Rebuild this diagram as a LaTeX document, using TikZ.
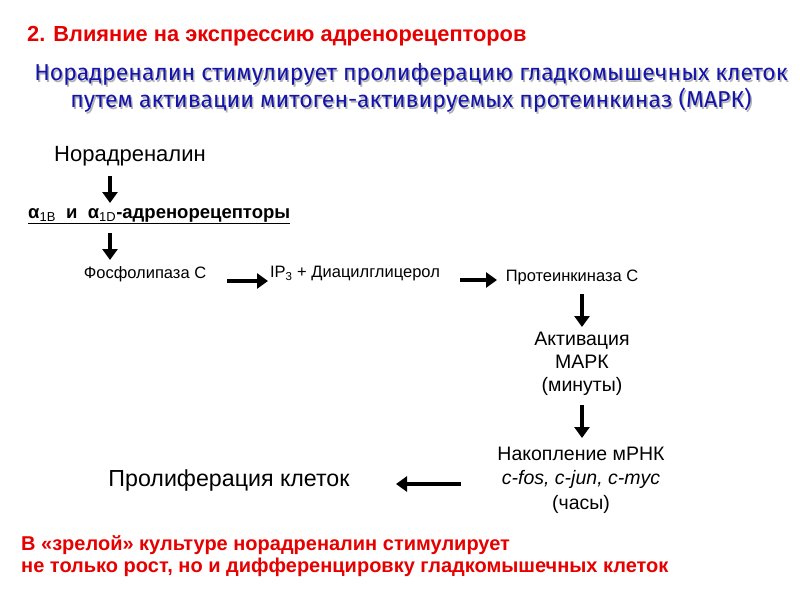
\documentclass[tikz,border=0pt]{standalone}
\usepackage{fontspec}
\setmainfont{Liberation Sans}
\newfontfamily\handfont{Fira Sans}
\usetikzlibrary{arrows.meta}
\definecolor{tred}{RGB}{230,0,0}
\definecolor{tblue}{RGB}{20,20,170}
\begin{document}
\begin{tikzpicture}[x=1pt,y=-1pt,
  arr/.style={line width=3.6pt,-{Triangle[length=11pt,width=15pt]}},
  lbl/.style={inner sep=0pt,align=center}]
\useasboundingbox (0,0) rectangle (800,600);
\fill[white] (0,0) rectangle (800,600);
\node[lbl,anchor=west,text=tred,font=\fontsize{21.8}{24}\selectfont\bfseries] (t1) at (27,36) {2. Влияние на экспрессию адренорецепторов};
\begin{scope}[shift={(1.5,1.5)}]
\node[lbl,text=gray!60,font=\handfont\fontsize{23}{27}\selectfont] at (411,88) {Норадреналин стимулирует пролиферацию гладкомышечных клеток\\путем активации митоген-активируемых протеинкиназ (МАРК)};
\end{scope}
\node[lbl,text=tblue,font=\handfont\fontsize{23}{27}\selectfont] (t2) at (411,88) {Норадреналин стимулирует пролиферацию гладкомышечных клеток\\путем активации митоген-активируемых протеинкиназ (МАРК)};
\node[lbl,font=\fontsize{22}{24}\selectfont] (nor) at (130,156) {Норадреналин};
\node[lbl,anchor=west,font=\fontsize{18.5}{20}\selectfont\bfseries] (alpha) at (28,216) {\underline{α\textsubscript{\normalfont 1B}\ \ и\ \ α\textsubscript{\normalfont 1D}-адренорецепторы}};
\node[lbl,font=\fontsize{16.5}{18}\selectfont] (plc) at (145,274) {Фосфолипаза С};
\node[lbl,font=\fontsize{16.5}{18}\selectfont] (ip3) at (355,274) {IP\textsubscript{3} + Диацилглицерол};
\node[lbl,font=\fontsize{16.5}{18}\selectfont] (pkc) at (572,277) {Протеинкиназа С};
\node[lbl,font=\fontsize{19.5}{23}\selectfont] (mapk) at (582,364) {Активация\\МАРК\\(минуты)};
\node[lbl,font=\fontsize{19.5}{24.5}\selectfont] (mrna) at (581,480) {Накопление мРНК\\\itshape c-fos, c-jun, c-myc\\(часы)};
\node[lbl,font=\fontsize{23.2}{26}\selectfont] (prol) at (229,480) {Пролиферация клеток};
\node[lbl,anchor=west,align=left,text=tred,font=\fontsize{20}{22}\selectfont\bfseries] (b) at (21,556) {В «зрелой» культуре норадреналин стимулирует\\не только рост, но и дифференцировку гладкомышечных клеток};
\coordinate (a1s) at (110,176); \coordinate (a1e) at (110,203);
\draw[arr] (a1s) -- (a1e);
\coordinate (a2s) at (110,233); \coordinate (a2e) at (110,260);
\draw[arr] (a2s) -- (a2e);
\coordinate (p1) at (227,281); \coordinate (p2) at (268,281);
\draw[arr] (p1) -- (p2);
\coordinate (h1) at (460,280); \coordinate (h2) at (497,280);
\draw[arr] (h1) -- (h2);
\coordinate (k1) at (582,294); \coordinate (k2) at (582,327);
\draw[arr] (k1) -- (k2);
\coordinate (m1) at (582,405); \coordinate (m2) at (582,438);
\draw[arr] (m1) -- (m2);
\coordinate (r1) at (461,484); \coordinate (r2) at (396,484);
\draw[arr] (r1) -- (r2);
\end{tikzpicture}
\end{document}
